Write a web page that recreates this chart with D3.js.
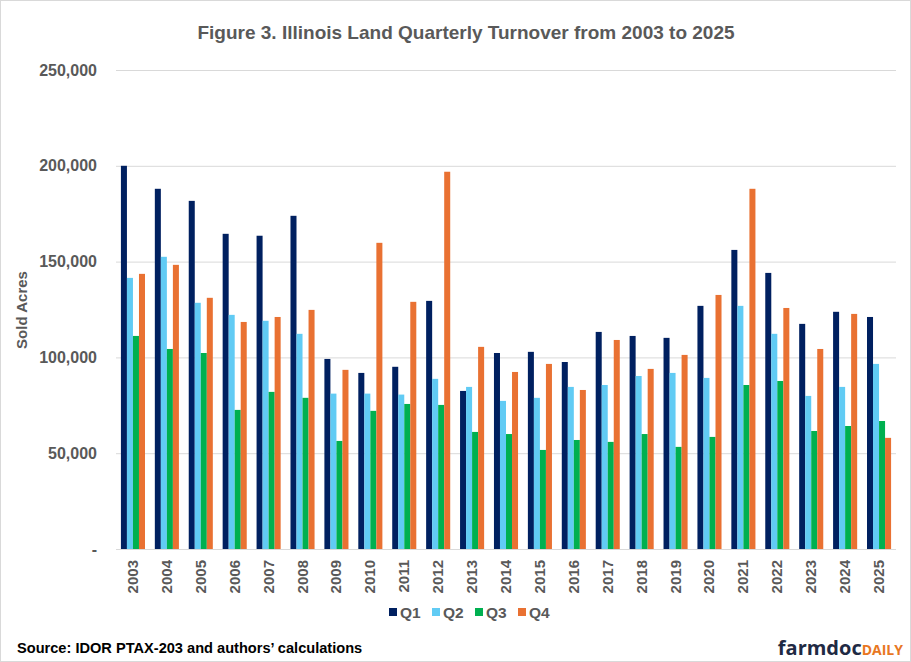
<!DOCTYPE html>
<html>
<head>
<meta charset="utf-8">
<script src="https://cdn.jsdelivr.net/npm/d3@7"></script>
<style>
  html, body { margin: 0; padding: 0; background: #fff; }
  svg { display: block; font-family: "Liberation Sans", Arial, sans-serif; }
</style>
</head>
<body>
<svg id="chart" width="911" height="662"></svg>
<script>
// data
const years = ['2003','2004','2005','2006','2007','2008','2009','2010','2011','2012','2013','2014',
  '2015','2016','2017','2018','2019','2020','2021','2022','2023','2024','2025']
const quarters = ['Q1','Q2','Q3','Q4']
const q1 = [200000,188000,181700,164500,163500,173900,99200,91900,95100,129500,82500,102300,
  102900,97600,113300,111200,110200,126900,156100,144100,117500,123800,121100]
const q2 = [141500,152500,128500,122200,119100,112300,81100,81100,80600,88800,84600,77300,
  78900,84600,85600,90300,91900,89300,126900,112300,79900,84600,96600]
const q3 = [111200,104400,102300,72600,82000,78900,56400,72100,75700,75200,61100,60000,
  51700,56900,55900,60000,53300,58500,85600,87700,61600,64200,66800]
const q4 = [143600,148300,131100,118500,121100,124800,93500,159800,129000,196900,105500,92400,
  96600,83000,109100,94000,101300,132600,188000,125800,104400,122700,58000]
const yTicks = [0, 50000, 100000, 150000, 200000, 250000]
const colors = ['#002060', '#61CBF4', '#00B050', '#E97132']

const series = [q1, q2, q3, q4]
const svg = d3.select('#chart')

// outer frame
svg.append('rect')
  .attr('x', 0.5).attr('y', 0.5)
  .attr('width', 910).attr('height', 661)
  .attr('fill', '#fff')
  .attr('stroke', '#d9d9d9')

const plotLeft = 116, plotRight = 896, plotTop = 70, plotBottom = 549

let y = d3.scaleLinear().domain([0, 250000]).range([plotBottom, plotTop])
let x0 = d3.scaleBand().domain(years).range([plotLeft, plotRight]).paddingInner(0.29).paddingOuter(0.145)
let x1 = d3.scaleBand().domain(quarters).range([0, x0.bandwidth()])

// gridlines + y labels
let yAxis = svg.append('g')
  .attr('transform', `translate(${plotLeft},0)`)
  .call(d3.axisLeft(y).tickValues(yTicks).tickSize(-(plotRight - plotLeft)).tickPadding(19)
    .tickFormat(d => d === 0 ? '-' : d3.format(',')(d)))
yAxis.select('.domain').remove()
yAxis.selectAll('line').attr('stroke', '#d9d9d9').attr('stroke-width', 1)
yAxis.selectAll('text')
  .attr('fill', '#595959')
  .attr('font-size', '16px')
  .attr('font-weight', 'bold')
  .attr('font-family', '"Liberation Sans", Arial, sans-serif')

// bars
let groups = svg.append('g').selectAll('g')
  .data(years)
  .enter().append('g')
  .attr('transform', d => `translate(${x0(d)},0)`)

groups.selectAll('rect')
  .data((d, i) => quarters.map((q, j) => ({ q: q, v: series[j][i], c: colors[j] })))
  .enter().append('rect')
  .attr('x', d => x1(d.q))
  .attr('width', x1.bandwidth())
  .attr('y', d => y(d.v))
  .attr('height', d => plotBottom - y(d.v))
  .attr('fill', d => d.c)

// year labels
svg.append('g').selectAll('text')
  .data(years)
  .enter().append('text')
  .attr('transform', d => `translate(${x0(d) + x0.bandwidth() / 2 + 5},${560}) rotate(-90)`)
  .attr('text-anchor', 'end')
  .attr('fill', '#595959')
  .attr('font-size', '15px')
  .attr('font-weight', 'bold')
  .text(d => d)

// y title
svg.append('text')
  .attr('transform', 'translate(27,310) rotate(-90)')
  .attr('text-anchor', 'middle')
  .attr('fill', '#595959')
  .attr('font-size', '15px')
  .attr('font-weight', 'bold')
  .text('Sold Acres')

// title
svg.append('text')
  .attr('x', 466).attr('y', 39)
  .attr('text-anchor', 'middle')
  .attr('fill', '#595959')
  .attr('font-size', '19px')
  .attr('font-weight', 'bold')
  .text('Figure 3. Illinois Land Quarterly Turnover from 2003 to 2025')

// legend
let legend = svg.append('g').attr('transform', 'translate(389,612)')
let lg = legend.selectAll('g')
  .data(quarters)
  .enter().append('g')
  .attr('transform', (d, i) => `translate(${i * 43},0)`)
lg.append('rect')
  .attr('x', 0).attr('y', -4)
  .attr('width', 8).attr('height', 8)
  .attr('fill', (d, i) => colors[i])
lg.append('text')
  .attr('x', 11).attr('y', 6)
  .attr('fill', '#595959')
  .attr('font-size', '15.5px')
  .attr('font-weight', 'bold')
  .text(d => d)

// source
svg.append('text')
  .attr('x', 17).attr('y', 653)
  .attr('fill', '#000')
  .attr('font-size', '14.6px')
  .attr('font-weight', 'bold')
  .text('Source: IDOR PTAX-203 and authors\u2019 calculations')

// logo
let logo = svg.append('text')
  .attr('x', 903).attr('y', 655)
  .attr('text-anchor', 'end')
  .attr('font-family', '"Open Sans", Roboto, sans-serif')
  .attr('font-weight', 'bold')
logo.append('tspan').attr('fill', '#1f2a44').attr('font-size', '20px').text('farmdoc')
logo.append('tspan').attr('fill', '#E87722').attr('font-size', '14px').text('DAILY')
</script>
</body>
</html>
